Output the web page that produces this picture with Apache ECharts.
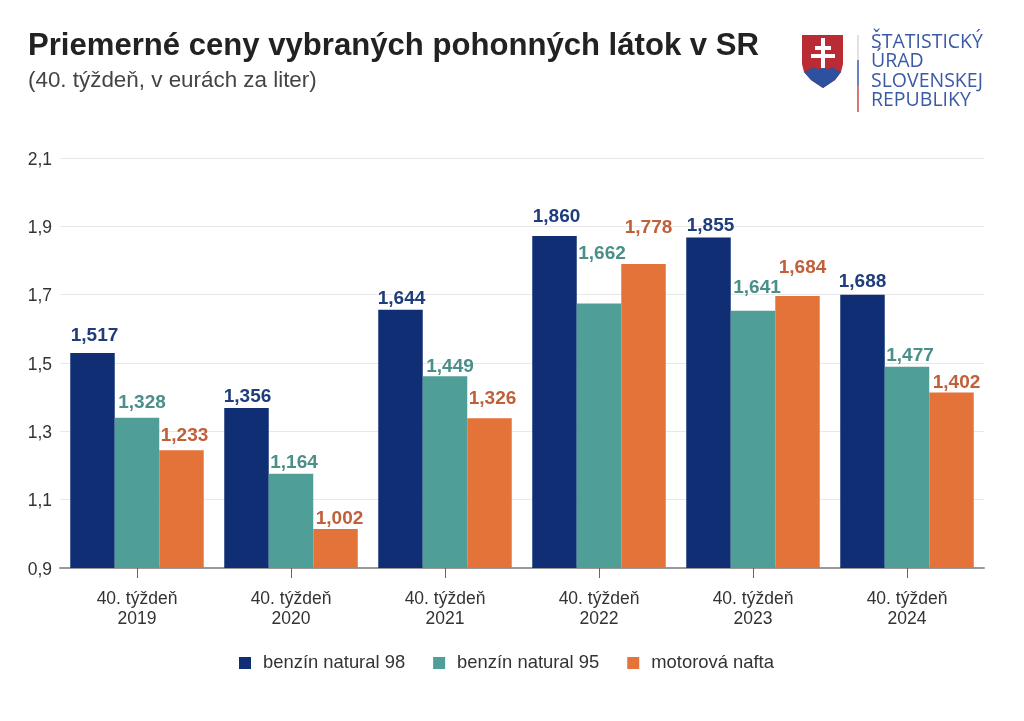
<!DOCTYPE html>
<html lang="sk">
<head>
<meta charset="UTF-8">
<title>Priemerné ceny</title>
<script src="https://cdn.jsdelivr.net/npm/echarts@6/dist/echarts.min.js"></script>
<style>
html,body{margin:0;padding:0;background:#fff;}
#chart{width:1024px;height:721px;}
</style>
</head>
<body>
<div id="chart"></div>
<script>
const categories = ['40. týždeň\n2019','40. týždeň\n2020','40. týždeň\n2021','40. týždeň\n2022','40. týždeň\n2023','40. týždeň\n2024'];
const natural98 = [1.517,1.356,1.644,1.860,1.855,1.688];
const natural95 = [1.328,1.164,1.449,1.662,1.641,1.477];
const nafta = [1.233,1.002,1.326,1.778,1.684,1.402];

// posun popisov oproti stlpcu [x,y], v originale su popisy rucne poposuvane
const shift98 = [[2,-1],[1,5],[1,6],[2,-3],[2,5],[0,4]];
const shift95 = [[5,2],[3,6],[5,7],[3,-33],[4,-6],[3,6]];
const shiftNafta = [[3,2],[4,6],[3,-3],[5,-20],[5,-12],[5,7]];

const font = 'Liberation Sans, Arial, sans-serif';
function fmt3(p){ return p.value.toFixed(3).replace('.',','); }
function makeSeries(name,data,shift,color,labelColor){
    return {
        name:name, type:'bar', yAxisIndex:1, barWidth:44.5, barGap:0,
        data:data.map(function(v,i){ return {value:v,label:{offset:shift[i]}}; }),
        itemStyle:{color:color},
        label:{show:true,position:'top',distance:7,formatter:fmt3,color:labelColor,
            fontFamily:font,fontSize:19,fontWeight:'bold'}
    };
}
const chart = echarts.init(document.getElementById('chart'));
chart.setOption({
    animation:false,
    backgroundColor:'#fff',
    title:{
        text:'Priemerné ceny vybraných pohonných látok v SR',
        subtext:'(40. týždeň, v eurách za liter)',
        left:28, top:31, padding:0, itemGap:8,
        textStyle:{fontFamily:font,fontSize:31.1,fontWeight:'bold',color:'#222'},
        subtextStyle:{fontFamily:font,fontSize:22.4,color:'#444'}
    },
    legend:{
        left:239, top:654, padding:0, itemWidth:12, itemHeight:12, itemGap:28, icon:'rect',
        textStyle:{fontFamily:font,fontSize:18.4,color:'#333',padding:[0,0,0,7]}
    },
    grid:{left:60,right:40,top:158,bottom:153},
    xAxis:{
        type:'category', data:categories,
        axisTick:{show:true,alignWithLabel:true,length:10,lineStyle:{color:'#666',width:1}},
        axisLine:{lineStyle:{color:'#999',width:2}},
        axisLabel:{fontFamily:font,fontSize:17.5,color:'#333',lineHeight:20,margin:21}
    },
    yAxis:[{
        type:'value', min:0.9, max:2.1, interval:0.2,
        axisLine:{show:false}, axisTick:{show:false},
        splitLine:{lineStyle:{color:'#e8e8e8'}},
        axisLabel:{margin:8,
            rich:{t:{fontFamily:font,fontSize:17.5,color:'#333',padding:[4,0,0,0]}},
            formatter:function(v){return '{t|'+v.toFixed(1).replace('.',',')+'}';}}
    },{
        // stlpce v originale stoja o kusok vyssie nez mriezka, preto skryta os
        type:'value', min:0.888, max:2.088, show:false, splitLine:{show:false}
    }],
    series:[
        makeSeries('benzín natural 98',natural98,shift98,'#0f2e73','#1f3d7d'),
        makeSeries('benzín natural 95',natural95,shift95,'#4f9f98','#4a8f88'),
        makeSeries('motorová nafta',nafta,shiftNafta,'#e4733a','#c0603a')
    ],
    graphic:[
        {type:'rect',shape:{x:857,y:35,width:2,height:25},style:{fill:'#e2e2e2'}},
        {type:'rect',shape:{x:857,y:60,width:2,height:26},style:{fill:'#6a82bd'}},
        {type:'rect',shape:{x:857,y:86,width:2,height:26},style:{fill:'#d9767b'}},
        {type:'polygon',shape:{points:[[802,35],[843,35],[843,64],[841,72],[835,80],[823,88],[811,80],[804,72],[802,64]]},style:{fill:'#b92b35'}},
        {type:'polygon',shape:{points:[[804,72],[809,70],[814,67],[819,70],[823,66],[828,70],[832,67],[837,70],[841,72],[835,80],[823,88],[811,80]]},style:{fill:'#2f4f9f'}},
        {type:'rect',shape:{x:821,y:38,width:4,height:30},style:{fill:'#fff'}},
        {type:'rect',shape:{x:815,y:46,width:16,height:4},style:{fill:'#fff'}},
        {type:'rect',shape:{x:811,y:54,width:24,height:4},style:{fill:'#fff'}},
        {type:'text',left:871,top:32,style:{text:'ŠTATISTICKÝ\nÚRAD\nSLOVENSKEJ\nREPUBLIKY',
            font:'19.5px "Open Sans", sans-serif',fill:'#3a5aa3',lineHeight:19.5}}
    ]
});
</script>
</body>
</html>
